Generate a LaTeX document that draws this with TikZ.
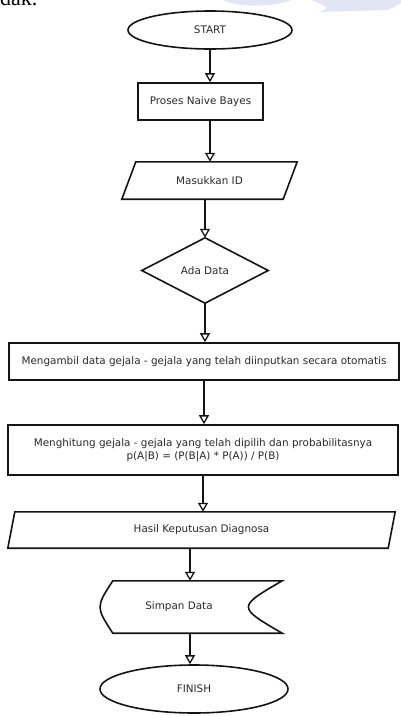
\documentclass[tikz,border=0pt]{standalone}
\usepackage{fontspec}
\setmainfont{DejaVu Sans}
\newfontfamily\serifdoc{Liberation Serif}
\usetikzlibrary{arrows.meta,shapes.geometric}
\definecolor{wmark}{RGB}{226,229,243}
\definecolor{inkline}{RGB}{20,20,20}
\definecolor{inktext}{RGB}{40,40,40}
\tikzset{
  labelfont/.style={font=\fontsize{10.4}{13}\selectfont},
  shapeline/.style={draw=inkline, line width=1.6pt},
  box/.style={shapeline, rectangle, inner sep=0pt, text=inktext, labelfont, align=center},
  ghost/.style={rectangle, inner sep=0pt, text=inktext, labelfont, align=center},
  term/.style={shapeline, ellipse, inner sep=0pt, text=inktext, labelfont},
  flow/.style={draw=inkline, line width=1.6pt, -{Triangle[open, width=10pt, length=9pt, line width=1.3pt]}}
}
\begin{document}
\begin{tikzpicture}[x=1pt,y=-1pt]
\useasboundingbox (0,0) rectangle (401,716);
% faint page watermark and text from the page
\fill[wmark] (223,0) .. controls (235,7) and (270,8) .. (292,0) -- cycle;
\fill[wmark] (312,0) -- (401,0) -- (401,3) -- (388,10) -- (318,12) .. controls (330,8) .. (312,0) -- cycle;
\node[anchor=base west, inner sep=0pt, font=\serifdoc\fontsize{22}{24}\selectfont] (pagetext) at (0,5) {dak.};

\node[term, minimum width=164pt, minimum height=38pt] (start) at (210,30) {START};
\node[box, minimum width=125pt, minimum height=37pt] (proses) at (200.5,101.5) {Proses Naive Bayes};
\node[ghost, minimum width=175pt, minimum height=37pt] (masuk) at (209.5,180.5) {Masukkan ID};
\draw[shapeline] ([xshift=14pt]masuk.north west) -- (masuk.north east) -- ([xshift=-14pt]masuk.south east) -- (masuk.south west) -- cycle;
\node[ghost, minimum width=126pt, minimum height=65pt] (ada) at (205,270.5) {Ada Data};
\draw[shapeline] (ada.north) -- (ada.east) -- (ada.south) -- (ada.west) -- cycle;
\node[box, minimum width=390pt, minimum height=37pt] (ambil) at (204,361.5) {Mengambil data gejala - gejala yang telah diinputkan secara otomatis};
\node[box, minimum width=390pt, minimum height=50pt] (hitung) at (203,450) {Menghitung gejala - gejala yang telah dipilih dan probabilitasnya\\p(A|B) = (P(B|A) * P(A)) / P(B)};
\node[ghost, minimum width=387pt, minimum height=36pt] (hasil) at (201.5,530) {Hasil Keputusan Diagnosa};
\draw[shapeline] ([xshift=7pt]hasil.north west) -- (hasil.north east) -- ([xshift=-7pt]hasil.south east) -- (hasil.south west) -- cycle;
\node[ghost, minimum width=184pt, minimum height=52pt] (simpan) at (190,607) {};
\draw[shapeline] ([xshift=15pt]simpan.north west) -- (simpan.north east)
  .. controls ([xshift=-45pt]simpan.east) .. (simpan.south east)
  -- ([xshift=15pt]simpan.south west) .. controls ([xshift=-2pt]simpan.west) .. cycle;
\node[ghost] (simpanlbl) at ([xshift=-11pt]simpan.center) {Simpan Data};
\node[term, minimum width=188pt, minimum height=48pt] (finish) at (194,689) {FINISH};

\draw[flow] (start.south) -- (start.south |- proses.north);
\draw[flow] (proses.south -| start.south) -- (masuk.north -| start.south);
\draw[flow] (masuk.south -| ada.north) -- (ada.north);
\draw[flow] (ada.south) -- (ada.south |- ambil.north);
\draw[flow] (ambil.south) -- (ambil.south |- hitung.north);
\draw[flow] (hitung.south) -- (hitung.south |- hasil.north);
\draw[flow] (hasil.south -| simpan.north) -- (simpan.north);
\draw[flow] (simpan.south) -- (simpan.south |- finish.north);
\end{tikzpicture}
\end{document}
